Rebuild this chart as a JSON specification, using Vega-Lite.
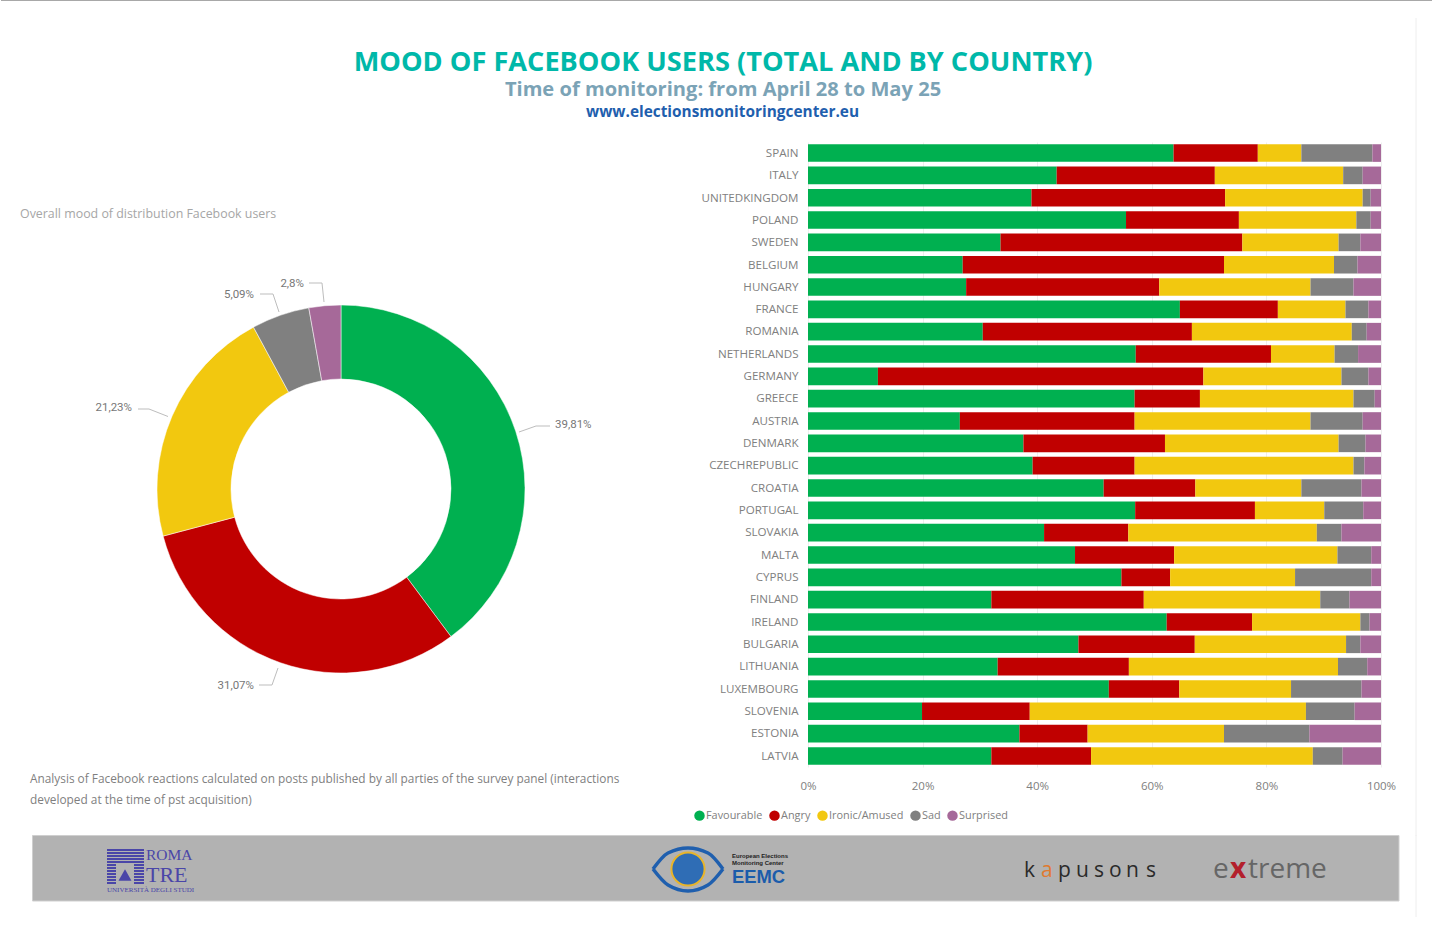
{"$schema":"https://vega.github.io/schema/vega-lite/v6.json","background":"#ffffff","padding":0,"bounds":"flush","spacing":0,"config":{"view":{"stroke":null},"font":"Open Sans"},"datasets":{"bars":[
{"c":"SPAIN","m":"Favourable","o":1,"v":63.8},{"c":"SPAIN","m":"Angry","o":2,"v":14.7},{"c":"SPAIN","m":"Ironic/Amused","o":3,"v":7.6},{"c":"SPAIN","m":"Sad","o":4,"v":12.4},{"c":"SPAIN","m":"Surprised","o":5,"v":1.5},
{"c":"ITALY","m":"Favourable","o":1,"v":43.4},{"c":"ITALY","m":"Angry","o":2,"v":27.6},{"c":"ITALY","m":"Ironic/Amused","o":3,"v":22.4},{"c":"ITALY","m":"Sad","o":4,"v":3.4},{"c":"ITALY","m":"Surprised","o":5,"v":3.2},
{"c":"UNITEDKINGDOM","m":"Favourable","o":1,"v":39.0},{"c":"UNITEDKINGDOM","m":"Angry","o":2,"v":33.8},{"c":"UNITEDKINGDOM","m":"Ironic/Amused","o":3,"v":24.0},{"c":"UNITEDKINGDOM","m":"Sad","o":4,"v":1.4},{"c":"UNITEDKINGDOM","m":"Surprised","o":5,"v":1.8},
{"c":"POLAND","m":"Favourable","o":1,"v":55.5},{"c":"POLAND","m":"Angry","o":2,"v":19.7},{"c":"POLAND","m":"Ironic/Amused","o":3,"v":20.5},{"c":"POLAND","m":"Sad","o":4,"v":2.5},{"c":"POLAND","m":"Surprised","o":5,"v":1.8},
{"c":"SWEDEN","m":"Favourable","o":1,"v":33.6},{"c":"SWEDEN","m":"Angry","o":2,"v":42.2},{"c":"SWEDEN","m":"Ironic/Amused","o":3,"v":16.8},{"c":"SWEDEN","m":"Sad","o":4,"v":3.8},{"c":"SWEDEN","m":"Surprised","o":5,"v":3.6},
{"c":"BELGIUM","m":"Favourable","o":1,"v":27.0},{"c":"BELGIUM","m":"Angry","o":2,"v":45.6},{"c":"BELGIUM","m":"Ironic/Amused","o":3,"v":19.2},{"c":"BELGIUM","m":"Sad","o":4,"v":4.1},{"c":"BELGIUM","m":"Surprised","o":5,"v":4.1},
{"c":"HUNGARY","m":"Favourable","o":1,"v":27.6},{"c":"HUNGARY","m":"Angry","o":2,"v":33.7},{"c":"HUNGARY","m":"Ironic/Amused","o":3,"v":26.4},{"c":"HUNGARY","m":"Sad","o":4,"v":7.5},{"c":"HUNGARY","m":"Surprised","o":5,"v":4.8},
{"c":"FRANCE","m":"Favourable","o":1,"v":64.9},{"c":"FRANCE","m":"Angry","o":2,"v":17.1},{"c":"FRANCE","m":"Ironic/Amused","o":3,"v":11.8},{"c":"FRANCE","m":"Sad","o":4,"v":4.0},{"c":"FRANCE","m":"Surprised","o":5,"v":2.2},
{"c":"ROMANIA","m":"Favourable","o":1,"v":30.5},{"c":"ROMANIA","m":"Angry","o":2,"v":36.5},{"c":"ROMANIA","m":"Ironic/Amused","o":3,"v":27.9},{"c":"ROMANIA","m":"Sad","o":4,"v":2.6},{"c":"ROMANIA","m":"Surprised","o":5,"v":2.5},
{"c":"NETHERLANDS","m":"Favourable","o":1,"v":57.2},{"c":"NETHERLANDS","m":"Angry","o":2,"v":23.6},{"c":"NETHERLANDS","m":"Ironic/Amused","o":3,"v":11.1},{"c":"NETHERLANDS","m":"Sad","o":4,"v":4.1},{"c":"NETHERLANDS","m":"Surprised","o":5,"v":4.0},
{"c":"GERMANY","m":"Favourable","o":1,"v":12.2},{"c":"GERMANY","m":"Angry","o":2,"v":56.8},{"c":"GERMANY","m":"Ironic/Amused","o":3,"v":24.1},{"c":"GERMANY","m":"Sad","o":4,"v":4.7},{"c":"GERMANY","m":"Surprised","o":5,"v":2.2},
{"c":"GREECE","m":"Favourable","o":1,"v":57.0},{"c":"GREECE","m":"Angry","o":2,"v":11.4},{"c":"GREECE","m":"Ironic/Amused","o":3,"v":26.8},{"c":"GREECE","m":"Sad","o":4,"v":3.7},{"c":"GREECE","m":"Surprised","o":5,"v":1.1},
{"c":"AUSTRIA","m":"Favourable","o":1,"v":26.5},{"c":"AUSTRIA","m":"Angry","o":2,"v":30.5},{"c":"AUSTRIA","m":"Ironic/Amused","o":3,"v":30.7},{"c":"AUSTRIA","m":"Sad","o":4,"v":9.1},{"c":"AUSTRIA","m":"Surprised","o":5,"v":3.2},
{"c":"DENMARK","m":"Favourable","o":1,"v":37.6},{"c":"DENMARK","m":"Angry","o":2,"v":24.7},{"c":"DENMARK","m":"Ironic/Amused","o":3,"v":30.3},{"c":"DENMARK","m":"Sad","o":4,"v":4.7},{"c":"DENMARK","m":"Surprised","o":5,"v":2.7},
{"c":"CZECHREPUBLIC","m":"Favourable","o":1,"v":39.2},{"c":"CZECHREPUBLIC","m":"Angry","o":2,"v":17.8},{"c":"CZECHREPUBLIC","m":"Ironic/Amused","o":3,"v":38.2},{"c":"CZECHREPUBLIC","m":"Sad","o":4,"v":1.9},{"c":"CZECHREPUBLIC","m":"Surprised","o":5,"v":2.9},
{"c":"CROATIA","m":"Favourable","o":1,"v":51.6},{"c":"CROATIA","m":"Angry","o":2,"v":16.0},{"c":"CROATIA","m":"Ironic/Amused","o":3,"v":18.5},{"c":"CROATIA","m":"Sad","o":4,"v":10.5},{"c":"CROATIA","m":"Surprised","o":5,"v":3.4},
{"c":"PORTUGAL","m":"Favourable","o":1,"v":57.1},{"c":"PORTUGAL","m":"Angry","o":2,"v":20.9},{"c":"PORTUGAL","m":"Ironic/Amused","o":3,"v":12.1},{"c":"PORTUGAL","m":"Sad","o":4,"v":6.8},{"c":"PORTUGAL","m":"Surprised","o":5,"v":3.1},
{"c":"SLOVAKIA","m":"Favourable","o":1,"v":41.2},{"c":"SLOVAKIA","m":"Angry","o":2,"v":14.7},{"c":"SLOVAKIA","m":"Ironic/Amused","o":3,"v":32.9},{"c":"SLOVAKIA","m":"Sad","o":4,"v":4.3},{"c":"SLOVAKIA","m":"Surprised","o":5,"v":6.9},
{"c":"MALTA","m":"Favourable","o":1,"v":46.6},{"c":"MALTA","m":"Angry","o":2,"v":17.3},{"c":"MALTA","m":"Ironic/Amused","o":3,"v":28.5},{"c":"MALTA","m":"Sad","o":4,"v":5.9},{"c":"MALTA","m":"Surprised","o":5,"v":1.7},
{"c":"CYPRUS","m":"Favourable","o":1,"v":54.7},{"c":"CYPRUS","m":"Angry","o":2,"v":8.5},{"c":"CYPRUS","m":"Ironic/Amused","o":3,"v":21.8},{"c":"CYPRUS","m":"Sad","o":4,"v":13.3},{"c":"CYPRUS","m":"Surprised","o":5,"v":1.7},
{"c":"FINLAND","m":"Favourable","o":1,"v":32.0},{"c":"FINLAND","m":"Angry","o":2,"v":26.6},{"c":"FINLAND","m":"Ironic/Amused","o":3,"v":30.8},{"c":"FINLAND","m":"Sad","o":4,"v":5.1},{"c":"FINLAND","m":"Surprised","o":5,"v":5.5},
{"c":"IRELAND","m":"Favourable","o":1,"v":62.6},{"c":"IRELAND","m":"Angry","o":2,"v":14.9},{"c":"IRELAND","m":"Ironic/Amused","o":3,"v":18.9},{"c":"IRELAND","m":"Sad","o":4,"v":1.6},{"c":"IRELAND","m":"Surprised","o":5,"v":2.0},
{"c":"BULGARIA","m":"Favourable","o":1,"v":47.2},{"c":"BULGARIA","m":"Angry","o":2,"v":20.3},{"c":"BULGARIA","m":"Ironic/Amused","o":3,"v":26.4},{"c":"BULGARIA","m":"Sad","o":4,"v":2.5},{"c":"BULGARIA","m":"Surprised","o":5,"v":3.6},
{"c":"LITHUANIA","m":"Favourable","o":1,"v":33.1},{"c":"LITHUANIA","m":"Angry","o":2,"v":22.9},{"c":"LITHUANIA","m":"Ironic/Amused","o":3,"v":36.5},{"c":"LITHUANIA","m":"Sad","o":4,"v":5.1},{"c":"LITHUANIA","m":"Surprised","o":5,"v":2.4},
{"c":"LUXEMBOURG","m":"Favourable","o":1,"v":52.5},{"c":"LUXEMBOURG","m":"Angry","o":2,"v":12.3},{"c":"LUXEMBOURG","m":"Ironic/Amused","o":3,"v":19.5},{"c":"LUXEMBOURG","m":"Sad","o":4,"v":12.3},{"c":"LUXEMBOURG","m":"Surprised","o":5,"v":3.4},
{"c":"SLOVENIA","m":"Favourable","o":1,"v":19.9},{"c":"SLOVENIA","m":"Angry","o":2,"v":18.8},{"c":"SLOVENIA","m":"Ironic/Amused","o":3,"v":48.2},{"c":"SLOVENIA","m":"Sad","o":4,"v":8.5},{"c":"SLOVENIA","m":"Surprised","o":5,"v":4.6},
{"c":"ESTONIA","m":"Favourable","o":1,"v":36.9},{"c":"ESTONIA","m":"Angry","o":2,"v":11.9},{"c":"ESTONIA","m":"Ironic/Amused","o":3,"v":23.8},{"c":"ESTONIA","m":"Sad","o":4,"v":14.9},{"c":"ESTONIA","m":"Surprised","o":5,"v":12.5},
{"c":"LATVIA","m":"Favourable","o":1,"v":32.0},{"c":"LATVIA","m":"Angry","o":2,"v":17.4},{"c":"LATVIA","m":"Ironic/Amused","o":3,"v":38.7},{"c":"LATVIA","m":"Sad","o":4,"v":5.2},{"c":"LATVIA","m":"Surprised","o":5,"v":6.7}
]},
"vconcat":[
{"width":1432,"height":142,"layer":[
{"data":{"values":[{"t":"MOOD OF FACEBOOK USERS (TOTAL AND BY COUNTRY)"}]},"mark":{"type":"text","font":"Open Sans","fontWeight":"bold","fontSize":27.2,"color":"#00b8a9"},"encoding":{"text":{"field":"t"},"x":{"datum":723,"type":"quantitative","axis":null,"scale":{"domain":[0,1432],"nice":false,"zero":false}},"y":{"datum":63,"type":"quantitative","axis":null,"scale":{"domain":[0,142],"reverse":true,"nice":false,"zero":false}}}},
{"data":{"values":[{"t":"Time of monitoring: from April 28 to May 25"}]},"mark":{"type":"text","font":"Open Sans","fontWeight":"bold","fontSize":20.1,"color":"#7ba3b6"},"encoding":{"text":{"field":"t"},"x":{"datum":723,"type":"quantitative","axis":null},"y":{"datum":90,"type":"quantitative","axis":null}}},
{"data":{"values":[{"t":"www.electionsmonitoringcenter.eu"}]},"mark":{"type":"text","font":"Open Sans","fontWeight":"bold","fontSize":15.4,"color":"#1f5fae"},"encoding":{"text":{"field":"t"},"x":{"datum":722.5,"type":"quantitative","axis":null},"y":{"datum":112,"type":"quantitative","axis":null}}},
{"data":{"values":[{"a":1}]},"mark":{"type":"rule","color":"#a8a8a8","strokeWidth":1},"encoding":{"x":{"datum":1,"type":"quantitative","axis":null},"x2":{"datum":1432},"y":{"datum":0.5,"type":"quantitative","axis":null}}},
{"data":{"values":[{"a":1}]},"mark":{"type":"rule","color":"#eeeeee","strokeWidth":1},"encoding":{"x":{"datum":1416,"type":"quantitative","axis":null},"y":{"datum":18,"type":"quantitative","axis":null},"y2":{"datum":142}}}
]},
{"resolve":{"scale":{"color":"independent"}},"hconcat":[
{"width":682,"height":694,"layer":[
{"data":{"values":[{"m":"Favourable","o":1,"v":39.81},{"m":"Angry","o":2,"v":31.07},{"m":"Ironic/Amused","o":3,"v":21.23},{"m":"Sad","o":4,"v":5.09},{"m":"Surprised","o":5,"v":2.8}]},"mark":{"type":"arc","outerRadius":184,"innerRadius":110,"stroke":"#ffffff","strokeWidth":0.5},"encoding":{"theta":{"field":"v","type":"quantitative","stack":true},"order":{"field":"o"},"color":{"field":"m","type":"nominal","legend":null,"scale":{"domain":["Favourable","Angry","Ironic/Amused","Sad","Surprised"],"range":["#00b050","#c00000","#f2c80f","#808080","#a66999"]}}}},
{"data":{"values":[{"s":"a","i":1,"east":178,"south":-57},{"s":"a","i":2,"east":195,"south":-63},{"s":"a","i":3,"east":209,"south":-63},{"s":"b","i":1,"east":-82,"south":196},{"s":"b","i":2,"east":-69,"south":196},{"s":"b","i":3,"east":-63,"south":179},{"s":"c","i":1,"east":-203,"south":-80},{"s":"c","i":2,"east":-192,"south":-80},{"s":"c","i":3,"east":-173,"south":-72.5},{"s":"d","i":1,"east":-81,"south":-195},{"s":"d","i":2,"east":-68,"south":-195},{"s":"d","i":3,"east":-62,"south":-177},{"s":"e","i":1,"east":-32,"south":-206},{"s":"e","i":2,"east":-19,"south":-206},{"s":"e","i":3,"east":-17,"south":-187}]},"mark":{"type":"line","color":"#bdbdbd","strokeWidth":1},"encoding":{"x":{"field":"east","type":"quantitative","axis":null,"scale":{"domain":[-341,341],"nice":false,"zero":false}},"y":{"field":"south","type":"quantitative","axis":null,"scale":{"domain":[-347,347],"reverse":true,"nice":false,"zero":false}},"detail":{"field":"s"},"order":{"field":"i"}}},
{"data":{"values":[{"t":"39,81%","east":214,"south":-64}]},"mark":{"type":"text","align":"left","font":"Roboto","fontSize":11.5,"color":"#777777"},"encoding":{"text":{"field":"t"},"x":{"field":"east","type":"quantitative","axis":null},"y":{"field":"south","type":"quantitative","axis":null}}},
{"data":{"values":[{"t":"31,07%","east":-87,"south":197},{"t":"21,23%","east":-209,"south":-81},{"t":"5,09%","east":-87,"south":-194},{"t":"2,8%","east":-37,"south":-205}]},"mark":{"type":"text","align":"right","font":"Roboto","fontSize":11.5,"color":"#777777"},"encoding":{"text":{"field":"t"},"x":{"field":"east","type":"quantitative","axis":null},"y":{"field":"south","type":"quantitative","axis":null}}},
{"data":{"values":[{"t":"Overall mood of distribution Facebook users"}]},"mark":{"type":"text","align":"left","font":"Open Sans","fontSize":12.4,"color":"#a6a6a6"},"encoding":{"text":{"field":"t"},"x":{"datum":-321,"type":"quantitative","axis":null},"y":{"datum":-275,"type":"quantitative","axis":null}}},
{"data":{"values":[{"t":"Analysis of Facebook reactions calculated on posts published by all parties  of the survey panel (interactions"}]},"mark":{"type":"text","align":"left","font":"Open Sans","fontSize":11.85,"color":"#7f7f7f"},"encoding":{"text":{"field":"t"},"x":{"datum":-311,"type":"quantitative","axis":null},"y":{"datum":290,"type":"quantitative","axis":null}}},
{"data":{"values":[{"t":"developed at the time of pst acquisition)"}]},"mark":{"type":"text","align":"left","font":"Open Sans","fontSize":11.85,"color":"#7f7f7f"},"encoding":{"text":{"field":"t"},"x":{"datum":-311,"type":"quantitative","axis":null},"y":{"datum":311,"type":"quantitative","axis":null}}},
{"data":{"values":[{"a":1}]},"mark":{"type":"rule","color":"#eeeeee","strokeWidth":1},"encoding":{"x":{"datum":1075,"type":"quantitative","axis":null},"y":{"datum":-347,"type":"quantitative","axis":null},"y2":{"datum":347}}}
]},
{"width":573,"height":625,"data":{"name":"bars"},"mark":{"type":"bar"},"encoding":{
"y":{"field":"c","type":"nominal","sort":null,"title":null,"scale":{"paddingInner":0.21,"paddingOuter":0.1},"axis":{"domain":false,"ticks":false,"labelPadding":10,"labelOffset":0.8,"labelFont":"Open Sans","labelFontSize":11.6,"labelColor":"#808080","grid":false}},
"x":{"field":"v","type":"quantitative","stack":"normalize","title":null,"axis":{"format":".0%","tickCount":5,"domain":false,"ticks":false,"grid":true,"gridColor":"#eeeeee","labelPadding":13,"labelFont":"Open Sans","labelFontSize":11.5,"labelColor":"#808080","labelFlush":false}},
"order":{"field":"o"},
"color":{"field":"m","type":"nominal","title":null,"scale":{"domain":["Favourable","Angry","Ironic/Amused","Sad","Surprised"],"range":["#00b050","#c00000","#f2c80f","#808080","#a66999"]},"legend":{"orient":"none","legendX":-114,"legendY":668,"direction":"horizontal","columns":5,"symbolType":"circle","symbolSize":110,"symbolStrokeWidth":0,"labelFont":"Open Sans","labelFontSize":10.9,"labelColor":"#808080","labelOffset":1,"columnPadding":6,"padding":0}}
}}
],"spacing":126,"bounds":"flush"},
{"width":1,"height":693,"data":{"values":[{"a":1}]},"mark":{"type":"text"},"encoding":{"text":{"value":""}}},
{"width":1432,"height":99,"layer":[
{"data":{"values":[{"a":1}]},"mark":{"type":"rect","color":"#b2b2b2","stroke":"#cfcfcf","strokeWidth":1},"encoding":{"x":{"datum":32.5,"type":"quantitative","axis":null,"scale":{"domain":[0,1432],"nice":false,"zero":false}},"x2":{"datum":1399},"y":{"datum":835.5,"type":"quantitative","axis":null,"scale":{"domain":[835,934],"reverse":true,"nice":false,"zero":false}},"y2":{"datum":901}}},
{"data":{"values":[{"a":1}]},"mark":{"type":"rule","color":"#eeeeee","strokeWidth":1},"encoding":{"x":{"datum":1416,"type":"quantitative","axis":null},"y":{"datum":835,"type":"quantitative","axis":null},"y2":{"datum":917}}},
{"data":{"values":[{"lev":850},{"lev":853},{"lev":856},{"lev":859},{"lev":862}]},"mark":{"type":"rule","color":"#4a46a8","strokeWidth":2},"encoding":{"x":{"datum":107,"type":"quantitative","axis":null},"x2":{"datum":144},"y":{"field":"lev","type":"quantitative","axis":null}}},
{"data":{"values":[{"lev":865},{"lev":868},{"lev":871},{"lev":874},{"lev":877},{"lev":880},{"lev":883}]},"mark":{"type":"rule","color":"#4a46a8","strokeWidth":2},"encoding":{"x":{"datum":107,"type":"quantitative","axis":null},"x2":{"datum":116},"y":{"field":"lev","type":"quantitative","axis":null}}},
{"data":{"values":[{"lev":865},{"lev":868},{"lev":871},{"lev":874},{"lev":877},{"lev":880},{"lev":883}]},"mark":{"type":"rule","color":"#4a46a8","strokeWidth":2},"encoding":{"x":{"datum":134,"type":"quantitative","axis":null},"x2":{"datum":144},"y":{"field":"lev","type":"quantitative","axis":null}}},
{"data":{"values":[{"a":1}]},"mark":{"type":"point","shape":"triangle-up","filled":true,"color":"#4a46a8","size":170,"opacity":1},"encoding":{"x":{"datum":125,"type":"quantitative","axis":null},"y":{"datum":875,"type":"quantitative","axis":null}}},
{"data":{"values":[{"t":"ROMA"}]},"mark":{"type":"text","align":"left","font":"Liberation Serif","fontSize":15.5,"color":"#4a46a8"},"encoding":{"text":{"field":"t"},"x":{"datum":146,"type":"quantitative","axis":null},"y":{"datum":855,"type":"quantitative","axis":null}}},
{"data":{"values":[{"t":"TRE"}]},"mark":{"type":"text","align":"left","font":"Liberation Serif","fontSize":22,"color":"#4a46a8"},"encoding":{"text":{"field":"t"},"x":{"datum":146,"type":"quantitative","axis":null},"y":{"datum":875,"type":"quantitative","axis":null}}},
{"data":{"values":[{"t":"UNIVERSITÀ DEGLI STUDI"}]},"mark":{"type":"text","align":"left","font":"Liberation Serif","fontSize":7,"color":"#4a46a8"},"encoding":{"text":{"field":"t"},"x":{"datum":107,"type":"quantitative","axis":null},"y":{"datum":890,"type":"quantitative","axis":null}}},
{"data":{"values":[{"lid":"up","h":653,"w":869},{"lid":"up","h":668,"w":853},{"lid":"up","h":688,"w":848},{"lid":"up","h":708,"w":853},{"lid":"up","h":723,"w":869},{"lid":"lo","h":653,"w":869},{"lid":"lo","h":668,"w":885},{"lid":"lo","h":688,"w":891},{"lid":"lo","h":708,"w":885},{"lid":"lo","h":723,"w":869}]},"mark":{"type":"line","color":"#1f5fae","strokeWidth":3.5,"interpolate":"monotone"},"encoding":{"x":{"field":"h","type":"quantitative","axis":null},"y":{"field":"w","type":"quantitative","axis":null},"detail":{"field":"lid"}}},
{"data":{"values":[{"a":1}]},"mark":{"type":"point","shape":"circle","filled":true,"color":"#2f6db5","stroke":"#e8b52a","strokeWidth":2,"size":1100,"opacity":1},"encoding":{"x":{"datum":688,"type":"quantitative","axis":null},"y":{"datum":869,"type":"quantitative","axis":null}}},
{"data":{"values":[{"t":"European Elections"}]},"mark":{"type":"text","align":"left","font":"Liberation Sans","fontWeight":"bold","fontSize":6,"color":"#222222"},"encoding":{"text":{"field":"t"},"x":{"datum":732,"type":"quantitative","axis":null},"y":{"datum":856,"type":"quantitative","axis":null}}},
{"data":{"values":[{"t":"Monitoring Center"}]},"mark":{"type":"text","align":"left","font":"Liberation Sans","fontWeight":"bold","fontSize":6,"color":"#222222"},"encoding":{"text":{"field":"t"},"x":{"datum":732,"type":"quantitative","axis":null},"y":{"datum":863,"type":"quantitative","axis":null}}},
{"data":{"values":[{"t":"EEMC"}]},"mark":{"type":"text","align":"left","font":"Liberation Sans","fontWeight":"bold","fontSize":18.4,"color":"#1b5cab"},"encoding":{"text":{"field":"t"},"x":{"datum":732,"type":"quantitative","axis":null},"y":{"datum":877,"type":"quantitative","axis":null}}},
{"data":{"values":[{"t":"k"}]},"mark":{"type":"text","align":"left","font":"Open Sans","fontSize":21,"color":"#2a2a2a"},"encoding":{"text":{"field":"t"},"x":{"datum":1024,"type":"quantitative","axis":null},"y":{"datum":871,"type":"quantitative","axis":null}}},
{"data":{"values":[{"t":"a"}]},"mark":{"type":"text","align":"left","font":"Open Sans","fontSize":21,"color":"#e07a30"},"encoding":{"text":{"field":"t"},"x":{"datum":1041,"type":"quantitative","axis":null},"y":{"datum":871,"type":"quantitative","axis":null}}},
{"data":{"values":[{"t":"p"}]},"mark":{"type":"text","align":"left","font":"Open Sans","fontSize":21,"color":"#2a2a2a"},"encoding":{"text":{"field":"t"},"x":{"datum":1058,"type":"quantitative","axis":null},"y":{"datum":871,"type":"quantitative","axis":null}}},
{"data":{"values":[{"t":"u"}]},"mark":{"type":"text","align":"left","font":"Open Sans","fontSize":21,"color":"#2a2a2a"},"encoding":{"text":{"field":"t"},"x":{"datum":1076,"type":"quantitative","axis":null},"y":{"datum":871,"type":"quantitative","axis":null}}},
{"data":{"values":[{"t":"s"}]},"mark":{"type":"text","align":"left","font":"Open Sans","fontSize":21,"color":"#2a2a2a"},"encoding":{"text":{"field":"t"},"x":{"datum":1094,"type":"quantitative","axis":null},"y":{"datum":871,"type":"quantitative","axis":null}}},
{"data":{"values":[{"t":"o"}]},"mark":{"type":"text","align":"left","font":"Open Sans","fontSize":21,"color":"#2a2a2a"},"encoding":{"text":{"field":"t"},"x":{"datum":1109,"type":"quantitative","axis":null},"y":{"datum":871,"type":"quantitative","axis":null}}},
{"data":{"values":[{"t":"n"}]},"mark":{"type":"text","align":"left","font":"Open Sans","fontSize":21,"color":"#2a2a2a"},"encoding":{"text":{"field":"t"},"x":{"datum":1126,"type":"quantitative","axis":null},"y":{"datum":871,"type":"quantitative","axis":null}}},
{"data":{"values":[{"t":"s"}]},"mark":{"type":"text","align":"left","font":"Open Sans","fontSize":21,"color":"#2a2a2a"},"encoding":{"text":{"field":"t"},"x":{"datum":1146,"type":"quantitative","axis":null},"y":{"datum":871,"type":"quantitative","axis":null}}},
{"data":{"values":[{"t":"e"}]},"mark":{"type":"text","align":"left","font":"Open Sans","fontSize":28,"color":"#666666"},"encoding":{"text":{"field":"t"},"x":{"datum":1213,"type":"quantitative","axis":null},"y":{"datum":870,"type":"quantitative","axis":null}}},
{"data":{"values":[{"t":"x"}]},"mark":{"type":"text","align":"left","font":"Open Sans","fontWeight":"bold","fontSize":28,"color":"#b3202c"},"encoding":{"text":{"field":"t"},"x":{"datum":1230,"type":"quantitative","axis":null},"y":{"datum":870,"type":"quantitative","axis":null}}},
{"data":{"values":[{"t":"treme"}]},"mark":{"type":"text","align":"left","font":"Open Sans","fontSize":28,"color":"#666666"},"encoding":{"text":{"field":"t"},"x":{"datum":1248,"type":"quantitative","axis":null},"y":{"datum":870,"type":"quantitative","axis":null}}}
]}
]}
